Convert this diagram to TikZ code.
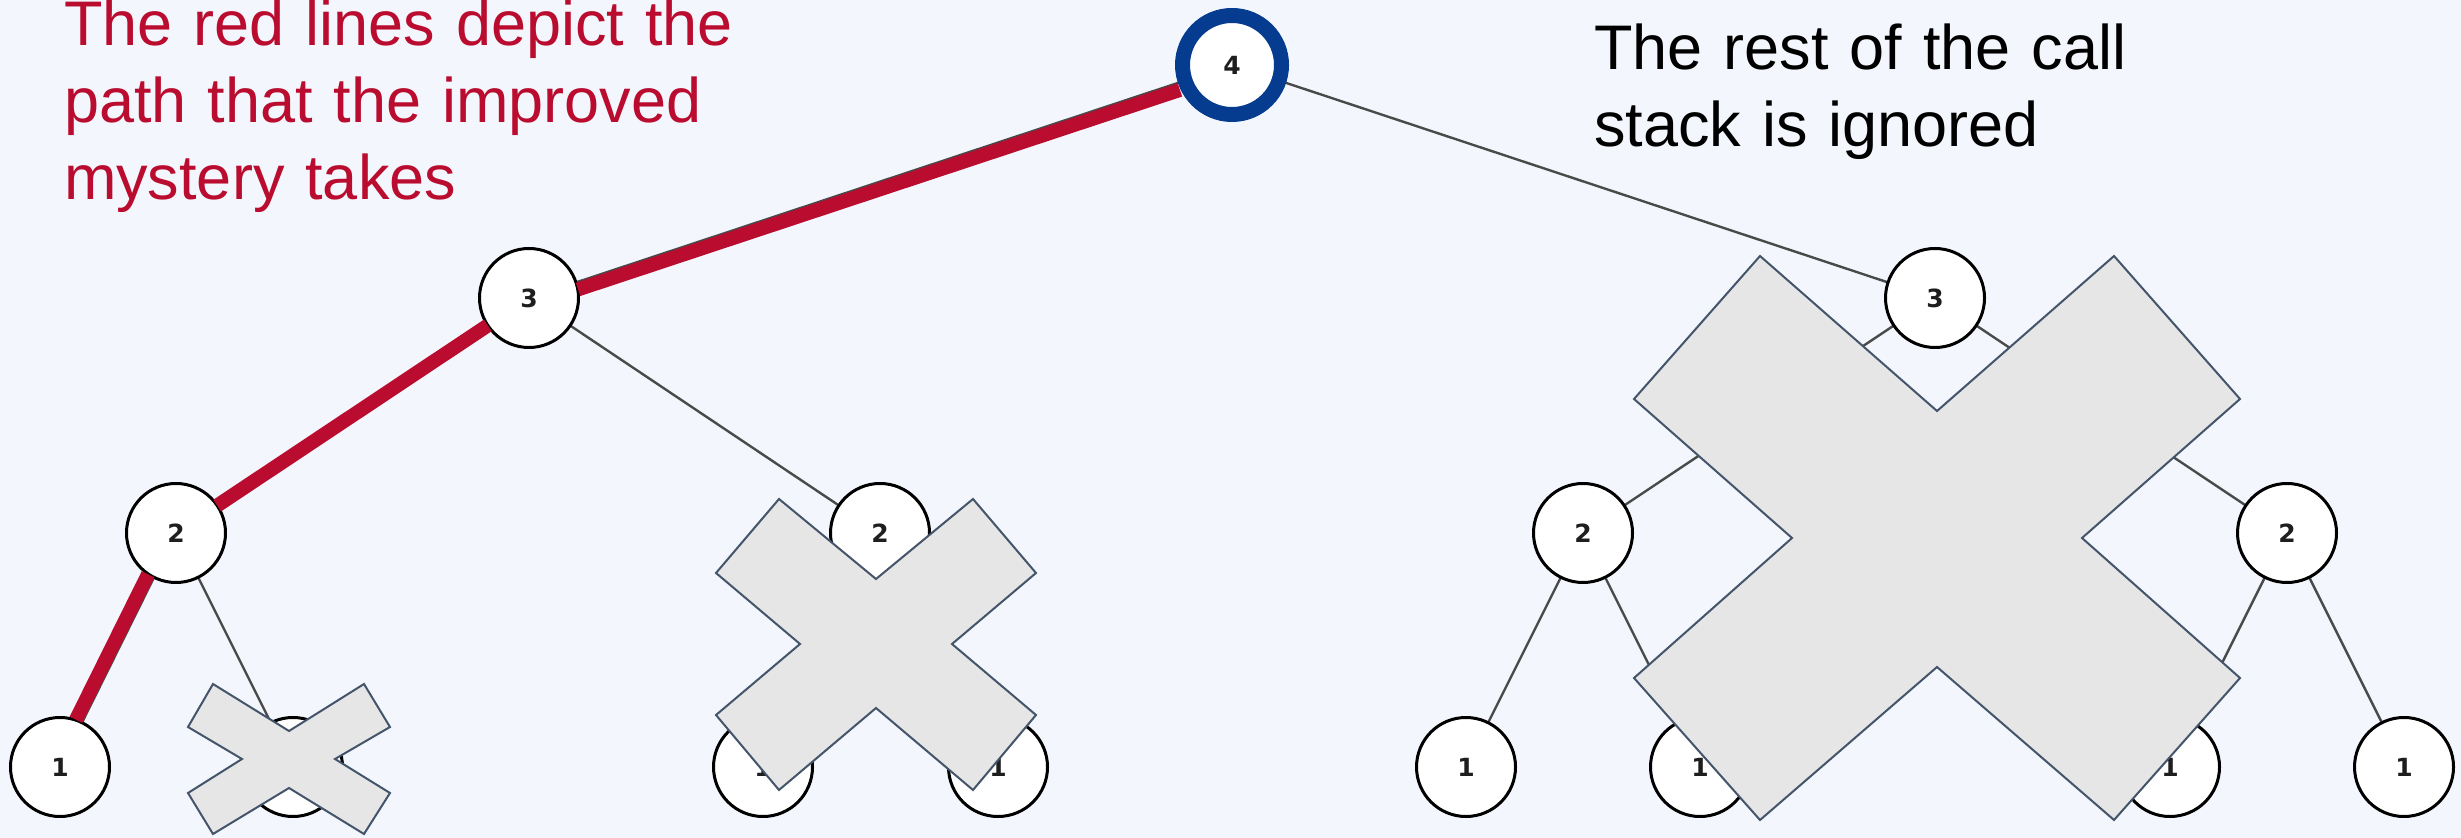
\documentclass[tikz,border=0pt]{standalone}
\usepackage{fontspec}
\setmainfont{Liberation Sans}
\newfontfamily\digitfont{DejaVu Sans}
\definecolor{bgpaper}{HTML}{F3F7FD}
\definecolor{pathred}{HTML}{BA0C2F}
\definecolor{ringblue}{HTML}{063C8F}
\definecolor{edgegray}{HTML}{4A4A4A}
\definecolor{crossfill}{HTML}{E6E6E6}
\definecolor{crossedge}{HTML}{44546A}
\definecolor{digit}{HTML}{1E1E1E}
\pgfdeclarelayer{paper}
\pgfdeclarelayer{edges}
\pgfsetlayers{paper,edges,main}
\begin{document}
\begin{tikzpicture}[x=0.5pt,y=-0.5pt,
  every node/.style={inner sep=0pt, outer sep=0pt},
  call/.style={circle, draw=black, line width=1.5pt, fill=white,
    minimum size=49.5pt, text=digit,
    font=\digitfont\bfseries\fontsize{12.5}{13}\selectfont},
  rootcall/.style={call, draw=ringblue, line width=7.5pt},
  edge/.style={draw=edgegray, line width=1.2pt},
  redpath/.style={draw=pathred, line width=7pt},
  cross/.style={fill=crossfill, draw=crossedge, line width=1pt, line join=miter},
  note/.style={anchor=base west, align=left, text width=560pt,
    font=\fontsize{31.5}{38.5}\selectfont}
]
% canvas
\begin{pgfonlayer}{paper}
\fill[bgpaper] (0,0) rectangle (2461,838);
\end{pgfonlayer}
\useasboundingbox (0,0) rectangle (2461,838);

% call tree
\node[rootcall] (root) at (1232,65)  {4};
\node[call] (la)  at (529,298)  {3};
\node[call] (ra)  at (1935,298) {3};
\node[call] (laa) at (176,533)  {2};
\node[call] (lab) at (880,533)  {2};
\node[call] (raa) at (1583,533) {2};
\node[call] (rab) at (2287,533) {2};
\node[call] (l1) at (60,767)   {1};
\node[call] (l2) at (293,767)  {1};
\node[call] (l3) at (763,767)  {1};
\node[call] (l4) at (998,767)  {1};
\node[call] (l5) at (1466,767) {1};
\node[call] (l6) at (1700,767) {1};
\node[call] (l7) at (2170,767) {1};
\node[call] (l8) at (2404,767) {1};

% thin call edges, behind the circles
\begin{pgfonlayer}{edges}
\path[edge] (root) -- (la) (root) -- (ra)
  (la) -- (laa) (la) -- (lab) (ra) -- (raa) (ra) -- (rab)
  (laa) -- (l1) (laa) -- (l2) (lab) -- (l3) (lab) -- (l4)
  (raa) -- (l5) (raa) -- (l6) (rab) -- (l7) (rab) -- (l8);
\end{pgfonlayer}

% path taken by the improved mystery
\draw[redpath, shorten <=3.75pt, transform canvas={shift={(2,7)}}] (root) -- (la);
\draw[redpath] (la) -- (laa);
\draw[redpath, transform canvas={shift={(-6,-3)}}] (laa) -- (l1);

% pruned calls
\draw[cross] (213,684) -- (289,731) -- (364,684) -- (390,727) -- (335,759)
  -- (390,793) -- (364,834) -- (289,788) -- (213,834) -- (188,793)
  -- (242,759) -- (188,727) -- cycle;
\draw[cross] (779,499) -- (876,579) -- (973,499) -- (1036,573) -- (952,644)
  -- (1036,715) -- (973,790) -- (876,708) -- (779,790) -- (716,715)
  -- (800,644) -- (716,573) -- cycle;
\draw[cross] (1760,256) -- (1937,411) -- (2114,256) -- (2240,399) -- (2082,538)
  -- (2240,678) -- (2114,820) -- (1937,667) -- (1760,820) -- (1634,678)
  -- (1792,538) -- (1634,399) -- cycle;

% notes
\node[note, text=pathred] (leftnote) at (64,46)
  {The red lines depict the\\path that the improved\\mystery takes};
\node[note, text=black] (rightnote) at (1594,70)
  {The rest of the call\\stack is ignored};
\end{tikzpicture}
\end{document}
